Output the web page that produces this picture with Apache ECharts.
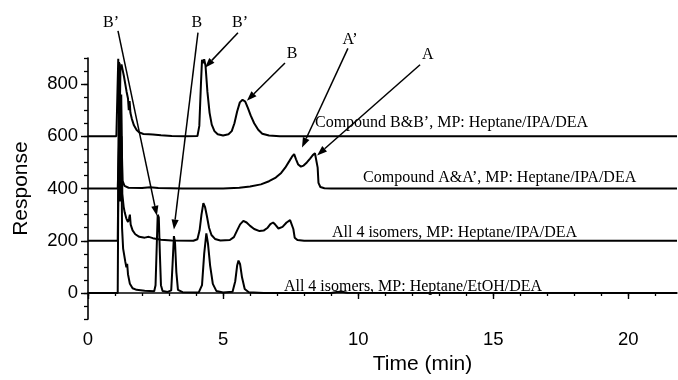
<!DOCTYPE html>
<html><head><meta charset="utf-8">
<script src="https://cdn.jsdelivr.net/npm/echarts@6/dist/echarts.min.js"></script>
<style>html,body{margin:0;padding:0;background:#fff}#c{width:678px;height:380px}</style>
</head><body><div id="c"></div><script>
// ---- data (time in min, response) ----
const traceBB = [[0,600],[1.05,600],[1.10,603],[1.12,897],[1.14,700],[1.17,640],[1.20,860],[1.24,875],[1.28,855],[1.33,830],[1.38,800],[1.43,770],[1.48,745],[1.51,700],[1.54,735],[1.57,690],[1.62,668],[1.70,642],[1.80,624],[1.90,615],[2.05,609],[2.25,608],[2.32,611],[2.40,607],[2.70,604],[3.10,601],[3.60,600],[4.05,601],[4.12,640],[4.18,800],[4.22,893],[4.26,880],[4.30,895],[4.35,870],[4.42,770],[4.50,690],[4.58,645],[4.68,620],[4.80,608],[5.00,603],[5.20,608],[5.32,620],[5.42,650],[5.52,695],[5.62,730],[5.72,740],[5.82,733],[5.92,708],[6.02,680],[6.15,650],[6.30,625],[6.45,610],[6.70,603],[7.10,600],[21.8,600]];
const traceAA = [[0,400],[1.10,400],[1.14,403],[1.17,640],[1.20,450],[1.24,600],[1.28,430],[1.35,410],[1.50,403],[2.00,402],[2.30,405],[2.60,402],[3.5,400],[5.0,400],[5.6,403],[6.0,408],[6.4,416],[6.7,428],[6.95,442],[7.15,460],[7.30,480],[7.45,505],[7.55,522],[7.63,532],[7.70,512],[7.78,492],[7.88,484],[7.98,488],[8.10,500],[8.22,515],[8.32,528],[8.40,535],[8.47,530],[8.50,480],[8.53,422],[8.60,406],[8.75,401],[9.0,400],[21.8,400]];
const traceAllIPA = [[0,200],[1.10,200],[1.14,205],[1.17,880],[1.20,500],[1.23,760],[1.27,380],[1.32,330],[1.36,308],[1.42,285],[1.48,272],[1.52,285],[1.55,300],[1.58,262],[1.65,240],[1.75,225],[1.90,215],[2.10,212],[2.25,215],[2.40,210],[2.70,204],[3.10,201],[3.90,200],[4.05,206],[4.13,240],[4.20,300],[4.27,344],[4.33,330],[4.40,295],[4.48,250],[4.57,222],[4.70,207],[4.90,201],[5.25,203],[5.40,214],[5.52,240],[5.63,263],[5.75,276],[5.87,270],[6.00,257],[6.15,245],[6.35,237],[6.50,239],[6.65,250],[6.75,264],[6.85,270],[6.93,262],[7.05,247],[7.20,253],[7.35,270],[7.48,279],[7.55,275],[7.60,245],[7.65,212],[7.75,203],[8.0,200],[21.8,200]];
const traceAllEtOH = [[0,0],[1.10,0],[1.13,5],[1.15,885],[1.18,350],[1.22,740],[1.26,250],[1.30,170],[1.34,145],[1.38,120],[1.42,98],[1.45,112],[1.48,72],[1.55,35],[1.65,18],[1.80,12],[2.10,9],[2.45,7],[2.50,30],[2.55,200],[2.58,300],[2.62,290],[2.66,150],[2.70,30],[2.76,8],[2.95,4],[3.08,10],[3.13,110],[3.18,218],[3.22,195],[3.27,80],[3.33,12],[3.50,3],[4.10,2],[4.22,30],[4.30,150],[4.38,228],[4.44,190],[4.52,105],[4.62,35],[4.75,8],[5.00,2],[5.35,5],[5.45,45],[5.52,105],[5.57,124],[5.63,110],[5.70,60],[5.80,15],[5.95,3],[6.5,0],[9.0,0],[9.2,4],[9.4,5],[9.6,1],[21.8,0]];

const xMajorTicks = [0,5,10,15,20];
const xMinorTicks = [0,1,2,3,4,5,6,7,8,9,10,11,12,13,14,15,16,17,18,19,20,21];
const yMajorTicks = [0,200,400,600,800];
const yMinorTicks = [-100,-50,0,50,100,150,200,250,300,350,400,450,500,550,600,650,700,750,800,850,900];

// trace captions: [text, t, response]
const captions = [
  ["Compound B&B\u2019, MP: Heptane/IPA/DEA", 8.40, 650],
  ["Compound A&A\u2019, MP: Heptane/IPA/DEA", 10.18, 441],
  ["All 4 isomers, MP: Heptane/IPA/DEA", 9.03, 232],
  ["All 4 isomers, MP: Heptane/EtOH/DEA", 7.25, 23]
];
// peak labels: [text, t, response] and arrows: [t0, v0, t1, v1]
const peakLabels = [["B\u2019",0.85,1034],["B",4.03,1034],["B\u2019",5.63,1034],["B",7.55,915],["A\u2019",9.70,971],["A",12.58,911]];
const arrows = [[1.11,1004,2.55,296],[4.07,997,3.18,243],[5.55,997,4.33,863],[7.29,881,5.88,736],[9.62,937,7.92,557],[12.29,874,8.48,527]];

const SANS = "'Liberation Sans', Arial, sans-serif";
const SERIF = "'Liberation Serif', 'Times New Roman', serif";

const chart = echarts.init(document.getElementById('c'), null, {renderer:'canvas'});
function mkSeries(name, data){
  return {name, type:'line', data, xAxisIndex:0, yAxisIndex:0, showSymbol:false, symbol:'none',
    lineStyle:{color:'#000', width:2}, clip:true, z:3};
}
chart.setOption({
  animation:false,
  backgroundColor:'#fff',
  grid:{left:88, right:1, top:58, bottom:54},
  xAxis:[
    {type:'value', min:0, max:21.8, position:'bottom',
     axisLine:{show:true, lineStyle:{color:'#000', width:1.6}},
     axisTick:{show:true, customValues:xMajorTicks, length:6, lineStyle:{color:'#000', width:1.4}},
     axisLabel:{customValues:xMajorTicks, color:'#000', fontSize:18.5, fontFamily:SANS, margin:11},
     splitLine:{show:false},
     name:'Time (min)', nameLocation:'middle', nameGap:31,
     nameTextStyle:{color:'#000', fontSize:21, fontFamily:SANS, padding:[0,0,0,80]}},
    {type:'value', min:0, max:21.8, position:'bottom',
     axisLine:{show:false},
     axisTick:{show:true, customValues:xMinorTicks, length:3, lineStyle:{color:'#000', width:1.3}},
     axisLabel:{show:false}, splitLine:{show:false}}
  ],
  yAxis:[
    {type:'value', min:-100, max:900, position:'left',
     axisLine:{show:true, lineStyle:{color:'#000', width:1.6}},
     axisTick:{show:true, customValues:yMajorTicks, length:7, lineStyle:{color:'#000', width:1.4}},
     axisLabel:{customValues:yMajorTicks, color:'#000', fontSize:18.5, fontFamily:SANS, margin:10},
     splitLine:{show:false},
     name:'Response', nameLocation:'middle', nameGap:56,
     nameTextStyle:{color:'#000', fontSize:21, fontFamily:SANS}},
    {type:'value', min:-100, max:900, position:'left',
     axisLine:{show:false},
     axisTick:{show:true, customValues:yMinorTicks, length:4, lineStyle:{color:'#000', width:1.3}},
     axisLabel:{show:false}, splitLine:{show:false}}
  ],
  series:[
    mkSeries('B&B', traceBB),
    mkSeries('A&A', traceAA),
    mkSeries('All IPA', traceAllIPA),
    mkSeries('All EtOH', traceAllEtOH)
  ]
});

// annotations placed through the chart's own scales
function px(t, v){ return chart.convertToPixel({xAxisIndex:0, yAxisIndex:0}, [t, v]); }
const g = [];
captions.forEach(([txt,t,v])=>{
  const p = px(t,v);
  g.push({type:'text', x:p[0], y:p[1], z:10,
    style:{text:txt, fill:'#000', font:'16px '+SERIF, textAlign:'left', textVerticalAlign:'middle'}});
});
peakLabels.forEach(([txt,t,v])=>{
  const p = px(t,v);
  g.push({type:'text', x:p[0], y:p[1], z:10,
    style:{text:txt, fill:'#000', font:'16px '+SERIF, textAlign:'center', textVerticalAlign:'middle'}});
});
arrows.forEach(([t0,v0,t1,v1])=>{
  const a = px(t0,v0), b = px(t1,v1);
  const dx = b[0]-a[0], dy = b[1]-a[1], L = Math.hypot(dx,dy);
  const ux = dx/L, uy = dy/L, hl = 10, hw = 3.6;
  const bx = b[0]-ux*hl, by = b[1]-uy*hl;
  g.push({type:'line', z:10, shape:{x1:a[0], y1:a[1], x2:bx, y2:by}, style:{stroke:'#000', lineWidth:1.5}});
  g.push({type:'polygon', z:10, shape:{points:[[b[0],b[1]],[bx-uy*hw, by+ux*hw],[bx+uy*hw, by-ux*hw]]}, style:{fill:'#000'}});
});
chart.setOption({graphic:g});
</script></body></html>
